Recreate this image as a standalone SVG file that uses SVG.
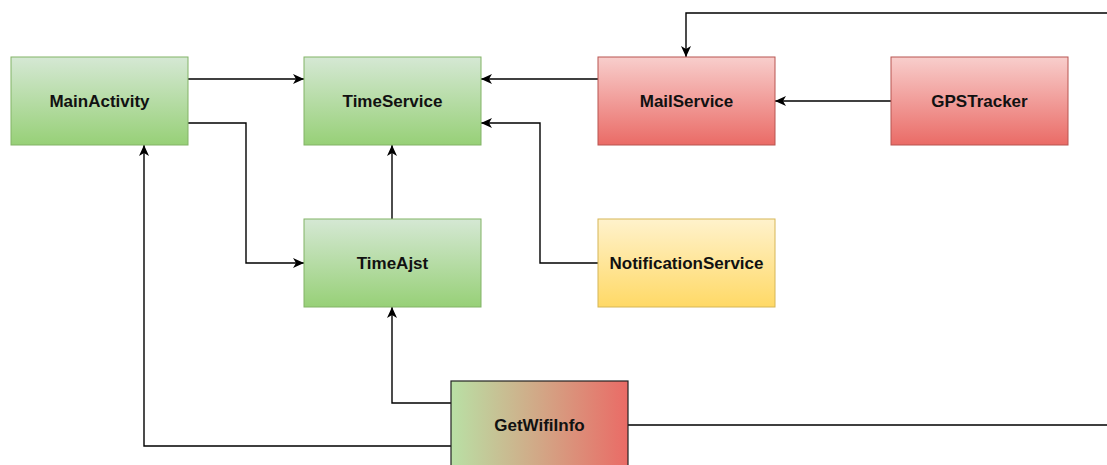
<svg xmlns="http://www.w3.org/2000/svg" width="1107" height="465" viewBox="0 0 1107 465">
  <defs>
    <linearGradient id="gGreen" x1="0" y1="0" x2="0" y2="1">
      <stop offset="0" stop-color="#d5e8d4"/>
      <stop offset="1" stop-color="#97d077"/>
    </linearGradient>
    <linearGradient id="gRed" x1="0" y1="0" x2="0" y2="1">
      <stop offset="0" stop-color="#f8cecc"/>
      <stop offset="1" stop-color="#ea6b66"/>
    </linearGradient>
    <linearGradient id="gYellow" x1="0" y1="0" x2="0" y2="1">
      <stop offset="0" stop-color="#fff2cc"/>
      <stop offset="1" stop-color="#ffd966"/>
    </linearGradient>
    <linearGradient id="gMix" x1="0" y1="0" x2="1" y2="0">
      <stop offset="0" stop-color="#b9e0a5"/>
      <stop offset="0.5" stop-color="#d2a786"/>
      <stop offset="1" stop-color="#ea6b66"/>
    </linearGradient>
    <marker id="arrow" viewBox="0 0 11 11" refX="11" refY="5.5" markerWidth="11" markerHeight="11" markerUnits="userSpaceOnUse" orient="auto">
      <path d="M0,0.5 L11,5.5 L0,10.5 L3,5.5 Z" fill="#000"/>
    </marker>
  </defs>
  <style>
    .green { fill: url(#gGreen); stroke: #82b366; stroke-width: 1; }
    .red { fill: url(#gRed); stroke: #b85450; stroke-width: 1; }
    .yellow { fill: url(#gYellow); stroke: #d6b656; stroke-width: 1; }
    .mix { fill: url(#gMix); stroke: #222; stroke-width: 1.2; }
    .label { font-family: "Liberation Sans", Arial, sans-serif; font-weight: bold; font-size: 17px; fill: #111; text-anchor: middle; }
    .edge { fill: none; stroke: #000; stroke-width: 1.4; }
    .arr { marker-end: url(#arrow); }
  </style>
  <rect width="1107" height="465" fill="#fff"/>

  <g id="connectors">
    <!-- MainActivity -> TimeService -->
    <path class="edge arr" d="M188,79 H304"/>
    <!-- MainActivity -> TimeAjst -->
    <path class="edge arr" d="M188,123 H246 V263 H304"/>
    <!-- MailService -> TimeService -->
    <path class="edge arr" d="M598,79 H481"/>
    <!-- NotificationService -> TimeService -->
    <path class="edge arr" d="M598,263 H540 V123 H481"/>
    <!-- TimeAjst -> TimeService -->
    <path class="edge arr" d="M392,219 V145"/>
    <!-- GPSTracker -> MailService -->
    <path class="edge arr" d="M891,101 H775"/>
    <!-- GetWifiInfo -> TimeAjst -->
    <path class="edge arr" d="M451,403 H392 V307"/>
    <!-- GetWifiInfo -> MainActivity -->
    <path class="edge arr" d="M451,446 H144 V145"/>
    <!-- GetWifiInfo -> MailService (routed around the right edge) -->
    <path class="edge arr" d="M628,425 H1120 V13 H686 V57"/>
  </g>

  <g id="MainActivity">
    <rect class="green" x="11" y="57" width="177" height="88"/>
    <text class="label" x="99.5" y="107">MainActivity</text>
  </g>
  <g id="TimeService">
    <rect class="green" x="304" y="57" width="177" height="88"/>
    <text class="label" x="392.5" y="107">TimeService</text>
  </g>
  <g id="MailService">
    <rect class="red" x="598" y="57" width="177" height="88"/>
    <text class="label" x="686.5" y="107">MailService</text>
  </g>
  <g id="GPSTracker">
    <rect class="red" x="891" y="57" width="177" height="88"/>
    <text class="label" x="979.5" y="107">GPSTracker</text>
  </g>
  <g id="TimeAjst">
    <rect class="green" x="304" y="219" width="177" height="88"/>
    <text class="label" x="392.5" y="269">TimeAjst</text>
  </g>
  <g id="NotificationService">
    <rect class="yellow" x="598" y="219" width="177" height="88"/>
    <text class="label" x="686.5" y="269">NotificationService</text>
  </g>
  <g id="GetWifiInfo">
    <rect class="mix" x="451" y="381" width="177" height="88"/>
    <text class="label" x="539.5" y="431">GetWifiInfo</text>
  </g>
</svg>
